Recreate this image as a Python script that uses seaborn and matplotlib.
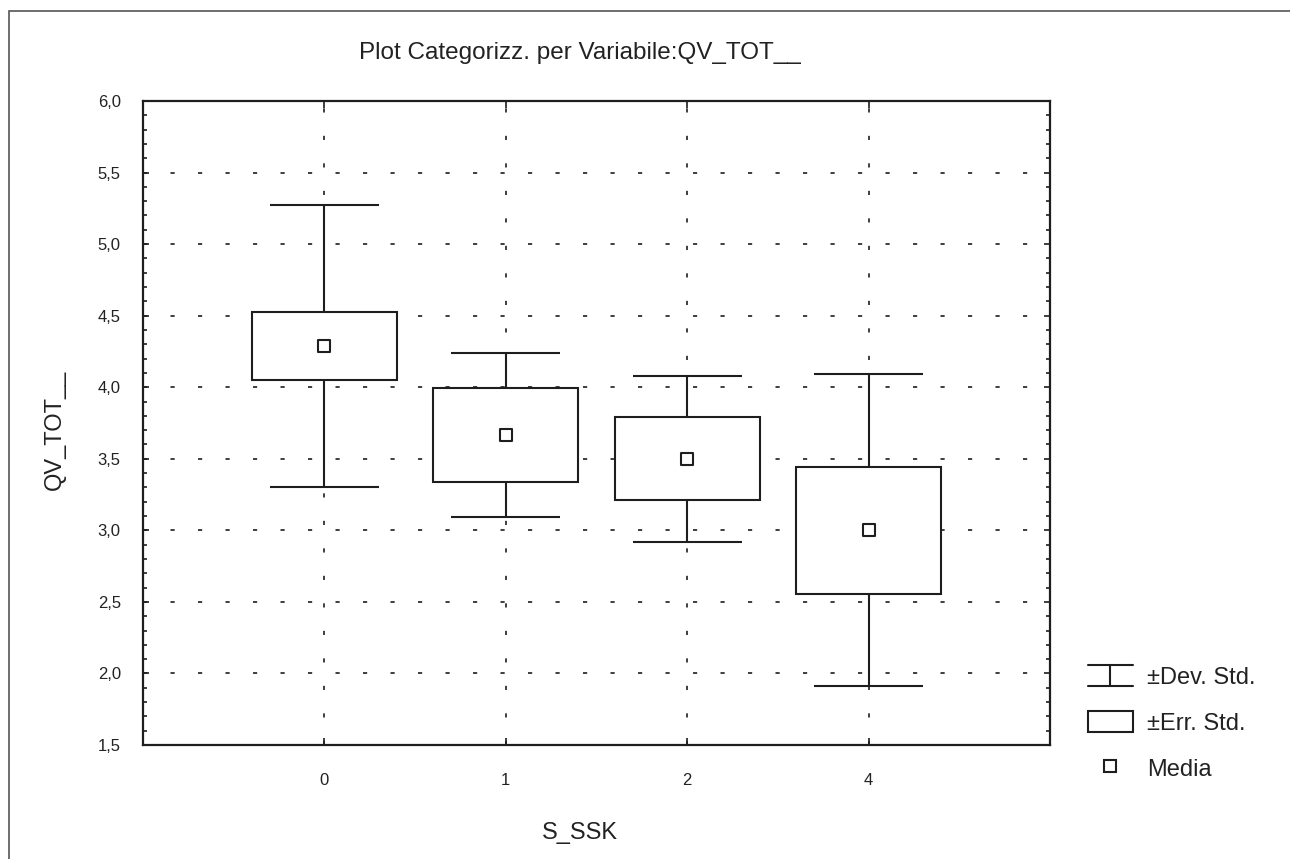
import matplotlib
matplotlib.use("Agg")
import matplotlib.pyplot as plt
import seaborn as sns
import pandas as pd
from matplotlib.patches import Rectangle
from matplotlib.lines import Line2D
from matplotlib.legend_handler import HandlerBase
from matplotlib.ticker import MultipleLocator, FuncFormatter

# values
categories = ["0", "1", "2", "4"]
means = [4.29, 3.665, 3.50, 3.00]
std_err = [0.238, 0.328, 0.289, 0.446]
std_dev = [0.985, 0.575, 0.580, 1.090]

title = "Plot Categorizz. per Variabile:QV_TOT__"
xlabel = "S_SSK"
ylabel = "QV_TOT__"
legend_labels = ["±Dev. Std.", "±Err. Std.", "Media"]

ink = "#1e1e1e"

sns.set_style("ticks")
plt.rcParams["font.family"] = ["Liberation Sans", "DejaVu Sans"]

df = pd.DataFrame({"cat": categories, "mean": means, "se": std_err, "sd": std_dev})
df["pos"] = range(len(df))

fig = plt.figure(figsize=(12.9, 8.59), dpi=100)
ax = fig.add_axes([143 / 1290, 1 - 745 / 859, 907 / 1290, 644 / 859])

# whiskers (mean ± sd)
ax.vlines(df["pos"], df["mean"] - df["sd"], df["mean"] + df["sd"], color=ink, lw=1.5, zorder=2)
ax.hlines(df["mean"] + df["sd"], df["pos"] - 0.3, df["pos"] + 0.3, color=ink, lw=1.5, zorder=2)
ax.hlines(df["mean"] - df["sd"], df["pos"] - 0.3, df["pos"] + 0.3, color=ink, lw=1.5, zorder=2)

# boxes (mean ± se)
ax.bar(df["pos"], 2 * df["se"], bottom=df["mean"] - df["se"], width=0.8,
       facecolor="white", edgecolor=ink, linewidth=1.5, zorder=3)

# means
sns.scatterplot(data=df, x="pos", y="mean", marker="s", s=70, color="white",
                edgecolor=ink, linewidth=1.5, zorder=4, ax=ax, legend=False)

ax.set_xlim(-1, len(categories))
ax.set_ylim(1.5, 6.0)
ax.set_xticks(df["pos"])
ax.set_xticklabels(categories)
ax.yaxis.set_major_locator(MultipleLocator(0.5))
ax.yaxis.set_minor_locator(MultipleLocator(0.1))
ax.yaxis.set_major_formatter(FuncFormatter(lambda v, p: f"{v:.1f}".replace(".", ",")))

ax.set_axisbelow(True)
ax.grid(True, which="major", linestyle=(0, (2.5, 14)), color=ink, lw=1.2)

for s in ax.spines.values():
    s.set_visible(True)
    s.set_linewidth(1.6)
    s.set_color(ink)

ax.tick_params(axis="y", which="both", direction="in", left=True, right=True,
               labelsize=12, pad=16, color=ink, labelcolor="#222")
ax.tick_params(axis="y", which="major", length=4, width=1.2)
ax.tick_params(axis="y", which="minor", length=3, width=1.2)
ax.tick_params(axis="x", which="major", direction="in", top=True, bottom=True,
               length=5, width=1.2, labelsize=12, pad=20, color=ink, labelcolor="#222")

ax.set_xlabel(xlabel, fontsize=17, color="#222")
ax.set_ylabel(ylabel, fontsize=17, color="#222")
ax.xaxis.set_label_coords((580 - 143) / 907, (745 - 822) / 644)
ax.yaxis.set_label_coords((66 - 143) / 907, 0.49)

fig.text(580 / 1290, 1 - 53 / 859, title, ha="center", va="center", fontsize=17.5, color="#222")


class WhiskerHandler(HandlerBase):
    def create_artists(self, legend, orig_handle, xdescent, ydescent, width, height, fontsize, trans):
        x0, x1 = -xdescent, -xdescent + width
        y0, y1 = -ydescent, -ydescent + height
        xm = (x0 + x1) / 2
        kw = dict(color=ink, lw=1.5, transform=trans)
        return [Line2D([x0, x1], [y1, y1], **kw),
                Line2D([x0, x1], [y0, y0], **kw),
                Line2D([xm, xm], [y0, y1], **kw)]


whisker_proxy = Line2D([], [])
box_proxy = Rectangle((0, 0), 1, 1, facecolor="white", edgecolor=ink, lw=1.5)
mean_proxy = Line2D([], [], marker="s", ls="none", mfc="white", mec=ink, mew=1.5, ms=8)

fig.legend([whisker_proxy, box_proxy, mean_proxy], legend_labels,
           loc="upper left", bbox_to_anchor=(1088 / 1290, 1 - 665 / 859),
           frameon=False, fontsize=17, handlelength=1.9, handleheight=1.0,
           handletextpad=0.6, labelspacing=0.95, borderpad=0, borderaxespad=0,
           labelcolor="#222", handler_map={whisker_proxy: WhiskerHandler()})

# outer frame
fig.add_artist(Rectangle((9 / 1290, -0.1), 2, 1.1 - 11 / 859, transform=fig.transFigure,
                         fill=False, edgecolor="#555", lw=1.2, clip_on=False))

fig.savefig("out.png", dpi=100)
